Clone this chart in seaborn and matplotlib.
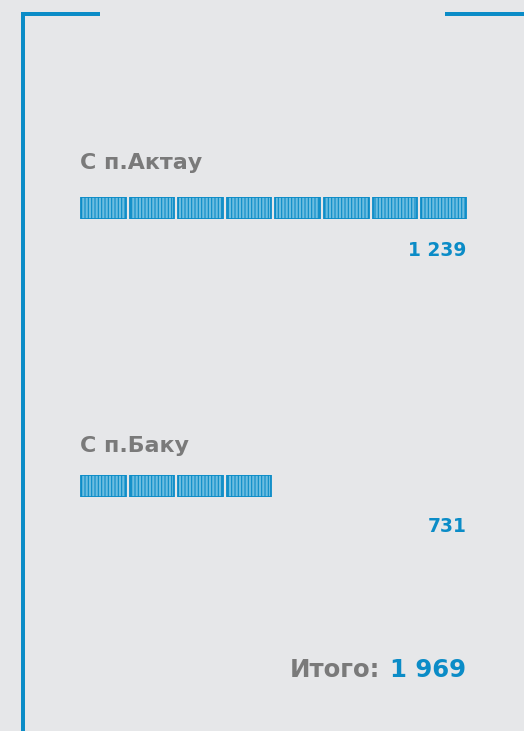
import matplotlib
matplotlib.use("Agg")
import matplotlib.pyplot as plt
import seaborn as sns
import pandas as pd
from matplotlib.patches import Rectangle

# ---- data ----
routes = ["С п.Актау", "С п.Баку"]
values = [1239, 731]
value_labels = ["1 239", "731"]
icon_counts = [8, 4]
total_label = "Итого:"
total_value = "1 969"
max_icons = 8

BG = "#e6e7e9"
BLUE = "#0b8cc7"
GRAY = "#7a7a7a"
FILL = "#6cbde0"

sns.set_theme(style="white")
plt.rcParams["font.family"] = ["DejaVu Sans"]
plt.rcParams["hatch.linewidth"] = 0.8

W, H = 524, 731
fig = plt.figure(figsize=(W / 100, H / 100), dpi=100)
fig.patch.set_facecolor(BG)

# background overlay axes in pixel coords
bg = fig.add_axes([0, 0, 1, 1])
bg.set_xlim(0, W)
bg.set_ylim(H, 0)
bg.axis("off")
bg.set_facecolor(BG)

# frame decoration
bg.add_patch(Rectangle((21, 12), 4, H - 12, color=BLUE, lw=0))
bg.add_patch(Rectangle((21, 12), 79, 4, color=BLUE, lw=0))
bg.add_patch(Rectangle((445, 12), W - 445, 4, color=BLUE, lw=0))

# layout per row (pixel positions)
label_base = [169, 451.5]
icon_top = [197.5, 474.5]
icon_h = 22
value_base = [255.7, 532.5]
pitch = 48.6
ax_left = 79.0

for i, (route, n, vlab) in enumerate(zip(routes, icon_counts, value_labels)):
    bg.text(80, label_base[i], route, ha="left", va="baseline",
            fontsize=15.9, fontweight="bold", color=GRAY)
    bg.text(466.5, value_base[i], vlab, ha="right", va="baseline",
            fontsize=13.4, fontweight="bold", color=BLUE)

    df = pd.DataFrame({"slot": list(range(n)), "h": [1] * n})
    ax = fig.add_axes([ax_left / W, 1 - (icon_top[i] + icon_h) / H,
                       pitch * max_icons / W, icon_h / H])
    sns.barplot(data=df, x="slot", y="h", order=list(range(max_icons)),
                width=0.916, color=FILL, saturation=1, ax=ax,
                edgecolor=BLUE, linewidth=1.3, hatch="|||||")
    ax.set_ylim(0, 1)
    ax.set_xlim(-0.5, max_icons - 0.5)
    ax.axis("off")
    ax.patch.set_alpha(0)

# total
TFS = 17.6
bg.text(466.5, 676.7, total_value, ha="right", va="baseline",
        fontsize=TFS, fontweight="bold", color=BLUE)
t = bg.text(0, 0, total_value, fontsize=TFS, fontweight="bold")
fig.canvas.draw()
r = fig.canvas.get_renderer()
wpx = t.get_window_extent(r).width
t.remove()
bg.text(466.5 - wpx - 10, 676.7, total_label, ha="right", va="baseline",
        fontsize=TFS, fontweight="bold", color=GRAY)

fig.savefig("out.png", dpi=100, facecolor=BG)
